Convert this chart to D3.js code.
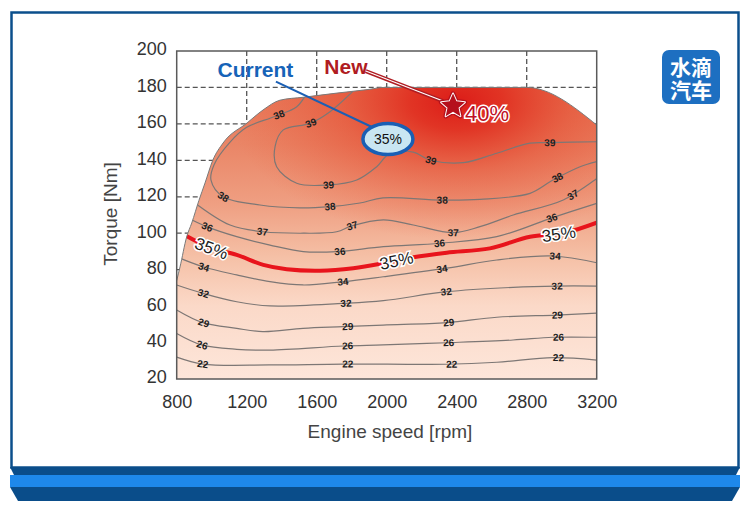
<!DOCTYPE html>
<html>
<head>
<meta charset="utf-8">
<script src="https://cdn.jsdelivr.net/npm/d3@7"></script>
<style>
body { margin: 0; background: #fff; }
svg text { font-family: "Liberation Sans", Arial, sans-serif; }
</style>
</head>
<body>
<svg id="chart" width="750" height="510"></svg>
<script>
// axis ticks
var rpmTicks = [800, 1200, 1600, 2000, 2400, 2800, 3200];
var torqueTicks = [20, 40, 60, 80, 100, 120, 140, 160, 180, 200];
var gridRpm = [1200, 1600, 2000, 2400, 2800];
var gridTorque = [40, 60, 80, 100, 120, 140, 160, 180];

// full load torque curve [rpm, Nm]
var fullLoad = [[800,74],[819,81.5],[857,98],[886,105.6],[927,118],[962,127.6],[1006,140],
  [1065,149.5],[1202,160.5],[1293,167.6],[1390,173],[1522,174.6],[1716,176.9],[1904,179],
  [1979,180],[2800,180],[3200,159.4]];

// efficiency contours [rpm, Nm]
var eff22 = [[800,32],[950,28.2],[1330,27.7],[1750,28.2],[2340,28.1],[2630,29.2],[2950,31.7],[3200,30.4]];
var eff26 = [[800,45],[943,38.7],[1143,36.3],[1333,35.9],[1752,38.1],[1979,38.7],[2343,39.9],[2722,41.4],[2950,42.9],[3200,42.9]];
var eff29 = [[800,57.9],[950,50.9],[1143,47.8],[1293,46],[1522,47.8],[1750,48.7],[1979,49.6],[2343,50.9],[2629,53.9],[2971,55.1],[3200,56.1]];
var eff32 = [[800,71.6],[950,67],[1143,62.4],[1333,60.1],[1752,61.5],[1981,63],[2343,67.9],[2722,70.3],[2971,71],[3200,71]];
var eff34 = [[800,87],[950,81.6],[1143,77.1],[1333,73.4],[1522,71.6],[1752,73.4],[1981,76.1],[2343,80.8],[2629,85.3],[2950,87.5],[3200,83.8]];
var eff35 = [[845,99],[1000,91.7],[1143,88.1],[1295,82.6],[1429,80.2],[1619,79.4],[1809,80.8],[1981,83.5],[2152,86.8],[2343,89.3],[2590,91.7],[2819,98.1],[3009,100],[3200,105.8]];
var eff36 = [[850,109],[971,103.6],[1143,98.1],[1333,93.5],[1523,89.9],[1714,89.9],[1981,92.6],[2305,94.5],[2629,98.1],[2952,108.7],[3200,116.4]];
var eff37 = [[885,118],[1105,104.5],[1295,100.8],[1523,100],[1714,100.8],[1800,104],[1981,107.3],[2152,104.5],[2381,100.3],[2533,103.6],[2723,110],[3009,118.2],[3200,130]];
var eff38 = [[1550,178],[1486,169.4],[1381,164.9],[1333,163.1],[1200,158.1],[1105,150],[1013,137.5],[996,129.2],[1066,120],[1276,115.5],[1505,113.9],[1676,114.6],[1847,116.6],[1979,119.4],[2314,118.2],[2533,118.6],[2819,121.9],[2950,129.2],[3105,136.5],[3200,139.3]];
var eff39 = [[1840,181],[1676,166.7],[1562,160.3],[1409,156.7],[1362,147.5],[1371,136.5],[1486,127.4],[1666,126.5],[1829,129.2],[1943,136.5],[2018,143.8],[2152,144.5],[2247,140.2],[2438,138.7],[2629,143.9],[2819,149.4],[2933,149.7],[3200,150.2]];

// contour labels [level, rpm, Nm]
var contourLabels = [
  [22,950,28.2],[22,1779,28.2],[22,2373,28.2],[22,2979,32],
  [26,945,38.7],[26,1779,38.1],[26,2356,40.3],[26,2979,43],
  [29,956,51.3],[29,1779,48.5],[29,2356,51.3],[29,2973,55.1],
  [32,956,67.2],[32,1767,61.7],[32,2339,67.7],[32,2973,71],
  [34,956,81.5],[34,1750,72.7],[34,2316,80.9],[34,2962,87],
  [36,973,103.4],[36,1733,89.7],[36,2299,94.6],[36,2945,108.9],
  [37,1293,100.8],[37,1802,104],[37,2379,100.8],[37,3065,121],
  [38,1065,119.9],[38,1676,114.4],[38,2316,118.2],[38,2973,131.4],[38,1385,164.9],
  [39,1567,160],[39,1670,126.5],[39,2253,140.2],[39,2933,149.5]
];
var label35 = [[1002,92.4],[2053,85.9],[2984,100]];

// annotations [rpm, Nm]
var currentPoint = [2007, 151.7];
var currentText = [1250, 190];
var currentFrom = [1367, 183.2];
var newPoint = [2379, 169.8];
var newText = [1767, 191.2];
var newFrom = [1880, 189];

var svg = d3.select("#chart");
var defs = svg.append("defs");

/* frame */
svg.append("rect").attr("x", 11.5).attr("y", 12.5).attr("width", 727).attr("height", 455)
  .attr("fill", "#fff").attr("stroke", "#0b4f8c").attr("stroke-width", 2.5);
svg.append("path").attr("d", "M10,467 L740,467 L736,475 L14,475 Z").attr("fill", "#0a4d8a");
svg.append("rect").attr("x", 10).attr("y", 475).attr("width", 730).attr("height", 12).attr("fill", "#1e88ea");
svg.append("path").attr("d", "M10,487 L740,487 L732,501 L18,501 Z").attr("fill", "#0a4d8a");

/* logo */
var logo = svg.append("g");
logo.append("rect").attr("x", 662).attr("y", 50).attr("width", 58).attr("height", 54).attr("rx", 7)
  .attr("fill", "#1d6fc1");
var logoText = logo.append("text").attr("text-anchor", "middle").attr("fill", "#fff")
  .style("font-family", "'Noto Sans CJK SC', sans-serif").style("font-weight", "bold")
  .style("font-size", "21px");
logoText.selectAll("tspan").data(["水滴", "汽车"]).enter().append("tspan")
  .attr("x", 691).attr("y", (d, i) => 75 + i * 23).text(d => d);

/* scales */
var x = d3.scaleLinear().domain([800, 3200]).range([176.7, 596.7]);
var y = d3.scaleLinear().domain([20, 200]).range([379, 51]);

var line = d3.line().x(d => x(d[0])).y(d => y(d[1])).curve(d3.curveCatmullRom.alpha(0.5));
var edge = d3.line().x(d => x(d[0])).y(d => y(d[1])).curve(d3.curveMonotoneX);
var area = d3.area().x(d => x(d[0])).y0(y(20)).y1(d => y(d[1])).curve(d3.curveMonotoneX);

/* gridlines */
var grid = svg.append("g").attr("stroke", "#555").attr("stroke-width", 1.3).attr("stroke-dasharray", "5,3");
grid.selectAll("line.v").data(gridRpm).enter().append("line")
  .attr("x1", d => x(d)).attr("x2", d => x(d)).attr("y1", y(200)).attr("y2", y(20));
grid.selectAll("line.h").data(gridTorque).enter().append("line")
  .attr("y1", d => y(d)).attr("y2", d => y(d)).attr("x1", x(800)).attr("x2", x(3200));

/* fills */
var lin = defs.append("linearGradient").attr("id", "gLin").attr("gradientUnits", "userSpaceOnUse")
  .attr("x1", 0).attr("x2", 0).attr("y1", y(20)).attr("y2", y(180));
[[0, "#fde6da"], [0.25, "#fbd9c8"], [0.42, "#f5c0a6"], [0.6, "#ef9f82"], [0.8, "#ea8667"], [1, "#e87657"]]
  .forEach(s => lin.append("stop").attr("offset", s[0]).attr("stop-color", s[1]));
var cx = x(2400), cy = y(172);
var rad = defs.append("radialGradient").attr("id", "gRad").attr("gradientUnits", "userSpaceOnUse")
  .attr("cx", cx).attr("cy", cy).attr("r", 230)
  .attr("gradientTransform", `translate(${cx},${cy}) scale(1,0.6) translate(${-cx},${-cy})`);
[[0, "#dc1c18", 1], [0.2, "#e02c1e", 0.9], [0.5, "#e4452b", 0.5], [1, "#e8603f", 0]]
  .forEach(s => rad.append("stop").attr("offset", s[0]).attr("stop-color", s[1]).attr("stop-opacity", s[2]));

defs.append("clipPath").attr("id", "clipRegion").append("path").attr("d", area(fullLoad));

svg.append("path").attr("d", area(fullLoad)).attr("fill", "url(#gLin)");
svg.append("path").attr("d", area(fullLoad)).attr("fill", "url(#gRad)");

/* contours */
var contourLines = [eff22, eff26, eff29, eff32, eff34, eff36, eff37, eff38, eff39];
var contourLevels = [22, 26, 29, 32, 34, 36, 37, 38, 39];
var cg = svg.append("g").attr("clip-path", "url(#clipRegion)");
var nodes = {};
contourLines.forEach(function(pts, i) {
  nodes[contourLevels[i]] = cg.append("path").attr("d", line(pts))
    .attr("fill", "none").attr("stroke", "#7d7775").attr("stroke-width", 1.2).node();
});
nodes[35] = cg.append("path").attr("d", line(eff35))
  .attr("fill", "none").attr("stroke", "#e8141c").attr("stroke-width", 4).node();

// boundary and box
svg.append("path").attr("d", edge(fullLoad)).attr("fill", "none").attr("stroke", "#7a7a7a").attr("stroke-width", 1);
svg.append("rect").attr("x", x(800)).attr("y", y(200)).attr("width", x(3200) - x(800)).attr("height", y(20) - y(200))
  .attr("fill", "none").attr("stroke", "#5a5a5a").attr("stroke-width", 1.5);

// snap a label onto its contour and follow the local slope
function place(node, rpm, tq) {
  var px = x(rpm), py = y(tq), len = node.getTotalLength(), best = 0, bd = Infinity;
  for (var l = 0; l <= len; l += 1) {
    var p = node.getPointAtLength(l), dd = (p.x - px) * (p.x - px) + (p.y - py) * (p.y - py);
    if (dd < bd) { bd = dd; best = l; }
  }
  var a = node.getPointAtLength(Math.max(0, best - 5)), b = node.getPointAtLength(Math.min(len, best + 5));
  var ang = Math.atan2(b.y - a.y, b.x - a.x) * 180 / Math.PI;
  if (ang > 90) ang -= 180;
  if (ang < -90) ang += 180;
  var c = node.getPointAtLength(best);
  return `translate(${c.x},${c.y}) rotate(${ang})`;
}

svg.append("g").selectAll("text").data(contourLabels).enter().append("text")
  .attr("transform", d => place(nodes[d[0]], d[1], d[2]))
  .attr("dy", "0.35em").attr("text-anchor", "middle")
  .style("font-size", "10px").style("font-weight", "bold").attr("fill", "#1e1e1e")
  .text(d => d[0]);

svg.append("g").selectAll("text").data(label35).enter().append("text")
  .attr("transform", d => place(nodes[35], d[0], d[1]))
  .attr("dy", "0.35em").attr("text-anchor", "middle")
  .style("font-size", "17px").attr("fill", "#1e1e1e")
  .attr("stroke", "#fff").attr("stroke-width", 3).attr("paint-order", "stroke")
  .text("35%");

/* annotations */
svg.append("line").attr("x1", x(currentFrom[0])).attr("y1", y(currentFrom[1]))
  .attr("x2", x(currentPoint[0]) - 16).attr("y2", y(currentPoint[1]) - 12)
  .attr("stroke", "#1a5fb4").attr("stroke-width", 2);
svg.append("text").attr("x", x(currentText[0])).attr("y", y(currentText[1])).attr("dy", "0.35em")
  .attr("text-anchor", "middle").style("font-size", "21px").style("font-weight", "bold")
  .attr("fill", "#1663b8").text("Current");
svg.append("ellipse").attr("cx", x(currentPoint[0])).attr("cy", y(currentPoint[1]))
  .attr("rx", 25).attr("ry", 15.5).attr("fill", "#c9e6f2").attr("stroke", "#1a5fb4").attr("stroke-width", 3.5);
svg.append("text").attr("x", x(currentPoint[0])).attr("y", y(currentPoint[1])).attr("dy", "0.35em")
  .attr("text-anchor", "middle").style("font-size", "14px").attr("fill", "#111").text("35%");

var nx1 = x(newFrom[0]), ny1 = y(newFrom[1]), nx2 = x(newPoint[0]) - 10, ny2 = y(newPoint[1]) - 5;
svg.append("line").attr("x1", nx1).attr("y1", ny1).attr("x2", nx2).attr("y2", ny2)
  .attr("stroke", "#b01c22").attr("stroke-width", 4);
svg.append("line").attr("x1", nx1).attr("y1", ny1).attr("x2", nx2).attr("y2", ny2)
  .attr("stroke", "#fff").attr("stroke-width", 1.2);
svg.append("text").attr("x", x(newText[0])).attr("y", y(newText[1])).attr("dy", "0.35em")
  .attr("text-anchor", "middle").style("font-size", "21px").style("font-weight", "bold")
  .attr("fill", "#b01c22").text("New");

// five-point star with fat arms
var starPts = d3.range(10).map(i => [i * Math.PI / 5, i % 2 ? 5.8 : 12.5]);
var star = d3.lineRadial().angle(d => d[0]).radius(d => d[1])(starPts) + "Z";
var starAt = `translate(${x(newPoint[0])},${y(newPoint[1])})`;
svg.append("path").attr("d", star).attr("transform", starAt)
  .attr("fill", "none").attr("stroke", "#b5101c").attr("stroke-width", 4.6).attr("stroke-linejoin", "round");
svg.append("path").attr("d", star).attr("transform", starAt)
  .attr("fill", "#b5101c").attr("stroke", "#fff").attr("stroke-width", 2).attr("stroke-linejoin", "round");
svg.append("path").attr("d", star).attr("transform", starAt).attr("fill", "#b5101c");
svg.append("text").attr("x", x(newPoint[0]) + 12).attr("y", y(newPoint[1]) + 15)
  .style("font-size", "22px").attr("fill", "#c00f25")
  .attr("stroke", "#fff").attr("stroke-width", 3).attr("paint-order", "stroke").text("40%");

/* axes */
var xAxis = svg.append("g").attr("transform", `translate(0,${y(20)})`)
  .call(d3.axisBottom(x).tickValues(rpmTicks).tickFormat(d3.format("d")).tickSize(0).tickPadding(16));
var yAxis = svg.append("g").attr("transform", `translate(${x(800)},0)`)
  .call(d3.axisLeft(y).tickValues(torqueTicks).tickFormat(d3.format("d")).tickSize(0).tickPadding(10));
[xAxis, yAxis].forEach(function(g) {
  g.select(".domain").remove();
  g.selectAll("text").style("font-size", "18px").style("font-family", "'Liberation Sans', Arial, sans-serif")
    .attr("fill", "#333");
});
yAxis.selectAll("text").attr("dy", "0.22em");

svg.append("text").attr("transform", "translate(117,214) rotate(-90)").attr("text-anchor", "middle")
  .style("font-size", "19px").attr("fill", "#444").text("Torque [Nm]");
svg.append("text").attr("x", 390).attr("y", 438).attr("text-anchor", "middle")
  .style("font-size", "19px").attr("fill", "#444").text("Engine speed [rpm]");
</script>
</body>
</html>
